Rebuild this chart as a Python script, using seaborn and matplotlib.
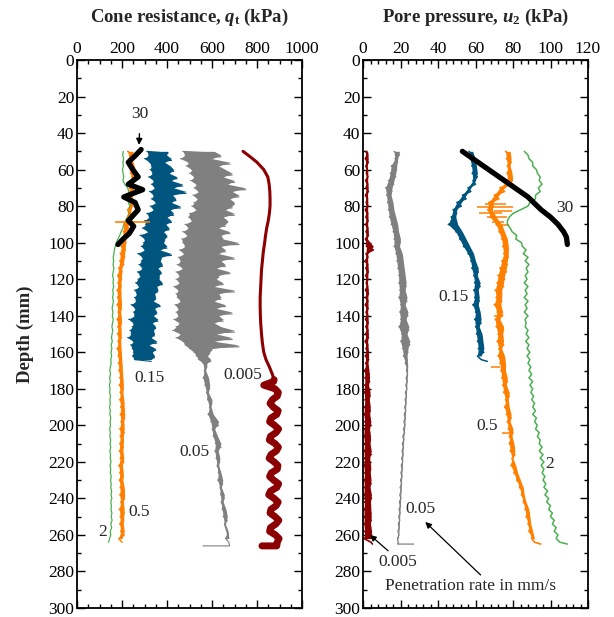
import numpy as np
import pandas as pd
import matplotlib
matplotlib.use("Agg")
import matplotlib.pyplot as plt
import seaborn as sns

# ---------------- data ----------------
# depth grids (mm)
depth_1mm = np.arange(50, 166, 1)      # 50..165
depth_2mm = np.arange(50, 265, 2)      # 50..264
depth_gray_thin = np.arange(166, 265, 2)  # 166..264
depth_red_band = np.arange(176, 265, 2)   # 176..264

# ---- Cone resistance qt (kPa) ----
qt_015 = [310, 405, 318, 398, 300, 420, 322, 390, 330, 415,
          325, 430, 335, 410, 318, 445, 340, 420, 330, 470,
          345, 430, 322, 485, 340, 425, 330, 440, 350, 420,
          325, 460, 340, 415, 310, 430, 320, 400, 300, 420,
          305, 395, 290, 410, 315, 385, 280, 400, 300, 390,
          295, 385, 285, 400, 300, 370, 270, 420, 290, 375,
          285, 370, 275, 380, 290, 360, 268, 375, 280, 365,
          270, 365, 260, 380, 275, 355, 255, 360, 265, 345,
          255, 350, 262, 340, 240, 370, 258, 345, 250, 355,
          255, 340, 230, 360, 250, 335, 245, 350, 235, 340,
          240, 345, 225, 330, 250, 355, 238, 320, 245, 350,
          250, 335, 245, 345, 255, 330]

qt_005_wide = [470, 610, 480, 640, 460, 600, 495, 680, 485, 630,
               510, 660, 500, 690, 520, 650, 505, 700, 530, 670,
               520, 750, 540, 690, 515, 720, 535, 680, 520, 700,
               510, 690, 530, 660, 500, 700, 495, 650, 510, 670,
               480, 660, 495, 630, 470, 680, 490, 640, 465, 650,
               470, 720, 480, 640, 455, 660, 475, 630, 450, 700,
               460, 640, 445, 660, 470, 620, 440, 680, 455, 630,
               440, 620, 455, 650, 430, 610, 450, 700, 440, 630,
               445, 640, 460, 610, 435, 660, 450, 620, 440, 690,
               450, 630, 430, 650, 455, 610, 440, 640, 425, 700,
               460, 620, 440, 690, 470, 610, 480, 720, 500, 600,
               520, 590, 530, 580, 540, 595]
qt_005_thin = [560, 578, 565, 572, 560, 585, 568, 590, 575, 584,
               580, 600, 588, 596, 582, 606, 595, 630, 600, 612,
               605, 625, 615, 640, 612, 628, 618, 635, 622, 630,
               628, 640, 625, 648, 635, 642, 638, 655, 640, 650,
               645, 662, 650, 668, 655, 660, 665, 672, 660, 675]
qt_005_tail_depth = [266, 266]
qt_005_tail = [678, 560]

qt_05 = [225, 250, 232, 244, 228, 255, 238, 262, 240, 250,
         232, 252, 228, 246, 235, 248, 225, 240, 224, 238,
         208, 228, 205, 225, 200, 218, 196, 215, 192, 212,
         190, 208, 185, 200, 180, 198, 182, 196, 178, 195,
         180, 196, 178, 198, 182, 194, 178, 198, 181, 195,
         180, 197, 182, 194, 178, 196, 183, 198, 184, 200,
         186, 202, 190, 204, 188, 206, 192, 204, 190, 208,
         194, 210, 192, 212, 195, 208, 190, 210, 192, 206,
         190, 206, 188, 204, 192, 208, 186, 202, 190, 206,
         188, 204, 192, 210, 190, 212, 194, 206, 188, 210,
         192, 208, 190, 206, 194, 210, 186, 200]
qt_05_spike_depth = [88.5]
qt_05_spike_lo = [169]
qt_05_spike_hi = [324]

qt_2 = [206, 203, 207, 204, 206, 202, 205, 208, 204, 212,
        225, 230, 226, 233, 228, 235, 226, 230, 224, 215,
        208, 204, 196, 190, 182, 175, 170, 166, 164, 161,
        163, 160, 164, 161, 158, 162, 160, 163, 159, 161,
        158, 162, 159, 156, 160, 157, 161, 158, 155, 159,
        156, 153, 157, 152, 155, 151, 154, 150, 152, 148,
        146, 149, 145, 148, 144, 147, 145, 149, 146, 148,
        145, 148, 146, 150, 147, 149, 145, 148, 146, 150,
        147, 150, 146, 149, 148, 151, 147, 150, 148, 152,
        149, 152, 150, 154, 151, 155, 150, 153, 151, 155,
        152, 156, 150, 154, 148, 150, 145, 140]

qt_30_depth = [49, 52, 56, 60, 64, 68, 71, 75, 78, 82, 85, 88, 91, 95, 98, 101]
qt_30 = [285, 262, 228, 248, 272, 228, 292, 208, 258, 272, 250, 228, 252, 232, 205, 182]

qt_0005_smooth_depth = [50, 53, 56, 60, 64, 68, 72, 76, 80, 84, 88, 92, 96, 100, 105,
                        110, 115, 120, 125, 130, 135, 140, 145, 150, 155, 160, 164,
                        168, 172, 175]
qt_0005_smooth = [738, 770, 800, 830, 848, 854, 857, 858, 858, 855, 850, 843, 838, 834, 828,
                  824, 820, 818, 816, 814, 814, 815, 817, 820, 824, 830, 840,
                  855, 868, 876]
qt_0005_band = [874, 830, 880, 895, 890, 868, 858, 872, 894, 888,
                862, 856, 878, 896, 884, 860, 855, 880, 895, 886,
                862, 854, 876, 893, 890, 864, 856, 874, 896, 888,
                860, 852, 876, 894, 885, 862, 858, 880, 897, 884,
                860, 856, 882, 898, 890]
qt_0005_tail_depth = [266, 266]
qt_0005_tail = [888, 822]

# ---- Pore pressure u2 (kPa) ----
u_015 = [56.5, 58.5, 57, 59.8, 58, 60.5, 58.2, 61, 58.6, 60,
         56, 57.5, 53, 55, 50, 52.5, 48, 50, 47, 49.5,
         45.5, 50.5, 49.5, 53, 51.5, 55, 53.5, 57, 56, 59,
         57.5, 60, 58, 61.5, 59, 61, 59.5, 62.5, 59, 61.5,
         59.5, 62, 58.5, 61.5, 60, 62.5, 59.5, 63, 60, 62,
         60.5, 63.5, 61, 64, 61.5, 64.5, 61, 63]
u_015_depth = np.arange(50, 165, 2)
u_015_tail_depth = [165]
u_015_tail = [66.3]

u_05 = [76, 78.5, 76.5, 79, 77, 78.5, 76.8, 79.5, 77, 79.8,
        73, 75.5, 70, 72.5, 67, 69.5, 66.5, 69, 68, 71,
        71, 74, 72.5, 75.5, 74, 77, 74.5, 77.5, 75, 77.5,
        74, 77, 73, 76.5, 72, 75.5, 71.5, 75, 70.5, 74,
        71, 74, 70, 73.5, 71.5, 74.5, 70.5, 73, 71, 75,
        72, 74.5, 71.5, 75, 72.5, 74, 72, 75.5, 73, 76,
        73.5, 76, 74, 77, 74.5, 76.5, 75, 78, 76, 77.5,
        75.5, 78, 76.5, 79, 77, 78.5, 77.5, 80, 78, 79.5,
        78, 80.5, 78.5, 81, 79.5, 80, 79, 81.5, 80.5, 82.5,
        82, 84, 83.5, 85.5, 84.5, 86, 85.5, 87, 86.5, 88.5,
        87, 89, 88, 89.5, 88.5, 90.5, 90, 91.5]
u_05_tail_depth = [265]
u_05_tail = [94.8]
u_05_spike_depth = [79, 80.5, 82.5, 84, 86, 88.5, 90.5, 140, 168, 204]
u_05_spike_lo = [65, 61, 70, 62, 66, 69, 71, 70, 68, 74]
u_05_spike_hi = [76, 80, 79.5, 74, 77, 75, 78, 73, 73, 79]

u_2 = [86, 88, 88.5, 90.5, 90.5, 92.5, 93, 94.5, 94, 95.5,
       93.5, 94.5, 92, 92, 89, 88, 84, 80, 78, 77,
       77, 78.5, 79.5, 82, 81.5, 84.5, 85, 87, 85.5, 88,
       86.5, 88.5, 87, 88, 86.5, 87.5, 86, 88, 86.5, 87.5,
       86, 88, 86.5, 87.5, 86, 88, 86.5, 87, 86.5, 88,
       87, 88.5, 86.8, 88.5, 87.5, 89, 87.5, 89, 88, 89.5,
       88.5, 90, 88.5, 90.5, 89, 90.5, 89.5, 91, 90, 91.5,
       90.5, 92, 90.5, 92.5, 91.5, 93, 92, 94, 93, 94.5,
       94, 95.5, 94, 96, 94.5, 96.5, 95, 96.5, 95.5, 97,
       96, 97.5, 96.5, 98.5, 97, 99, 98, 100, 99, 101,
       100, 102, 101, 103, 102, 104, 103, 105]
u_2_tail_depth = [265]
u_2_tail = [109]

u_005 = [16.5, 19.5, 17, 18.5, 15, 18, 14.5, 17.5, 13.5, 16.5,
         12, 15.5, 12.5, 15, 13, 16, 13.5, 16.5, 14, 17.5,
         15, 18.5, 16, 19, 16.5, 20, 16.5, 19.5, 17.5, 21,
         18, 21.5, 18.5, 22, 19, 22.5, 19, 23, 19.5, 22.5,
         19, 23.5, 20, 22.5, 19.5, 24, 20, 23, 19, 24.5,
         20.5, 23.5, 20, 25, 21, 24, 21.5, 23.5, 22.5, 23.8,
         23.2, 23.8, 23, 23.6, 22.8, 23.4, 22.6, 23.2, 22.4, 23,
         22.2, 22.8, 22, 22.6, 21.8, 22.4, 21.6, 22.2, 21.2, 21.8,
         21, 21.6, 20.8, 21.4, 20.6, 21.2, 20.4, 21, 20.2, 20.8,
         20, 20.6, 19.8, 20.4, 19.6, 20.2, 19.4, 20, 19.2, 19.8,
         19, 19.6, 18.8, 19.4, 18.6, 19.2, 18.4, 18.8]
u_005_tail_depth = [265, 265]
u_005_tail = [18.4, 27]

u_0005 = [1.5, 2.5, 1.2, 2.8, 1.5, 2.3, 1.8, 2.6, 1.4, 2.5,
          1.6, 2.8, 1.3, 2.4, 1.7, 2.6, 1.2, 2.5, 1.5, 2.7,
          1.4, 2.5, 1.6, 2.9, 1.3, 2.4, 1.8, 5.5, 1.6, 2.6,
          1.2, 2.5, 1.5, 2.8, 1.4, 2.6, 1.7, 2.4, 1.3, 2.9,
          1.5, 2.6, 1.2, 2.7, 1.6, 2.5, 1.3, 2.8, 1.5, 2.6,
          1.4, 2.9, 1.1, 2.5, 1.6, 2.8, 1.2, 3.0, 1.4, 2.7,
          0.8, 3.2, 1.0, 3.5, 0.9, 3.0, 0.6, 3.8, 1.0, 3.4,
          0.7, 3.9, 0.5, 3.6, 0.9, 4.2, 0.6, 3.5, 0.4, 4.0,
          0.8, 3.8, 0.5, 4.4, 0.7, 3.6, 0.4, 4.1, 0.8, 3.9,
          0.5, 4.3, 0.7, 3.8, 0.4, 4.5, 0.8, 4.0, 0.5, 4.2,
          0.6, 4.4, 0.5, 4.0, 0.8, 4.6, 0.6, 4.3]
u_0005_tail_depth = [265]
u_0005_tail = [5]

u_30_depth = [50, 55, 60, 65, 70, 75, 78, 82, 86, 90, 94, 97, 101]
u_30 = [53, 60, 67, 74, 81, 88, 91, 95, 100, 104, 107, 108.5, 109]

# colours
C_RED = "#8B0000"
C_GRAY = "#808080"
C_BLUE = "#00557F"
C_ORANGE = "#FF8000"
C_GREEN = "#4CAF50"
C_BLACK = "#000000"

# ---------------- style ----------------
sns.set_theme(style="ticks")
plt.rcParams["font.family"] = ["Liberation Serif", "DejaVu Serif"]
plt.rcParams["mathtext.fontset"] = "custom"
plt.rcParams["mathtext.rm"] = "Liberation Serif:bold"
plt.rcParams["mathtext.it"] = "Liberation Serif:italic:bold"
plt.rcParams["mathtext.bf"] = "Liberation Serif:bold"

W, H = 614, 617
fig = plt.figure(figsize=(W / 100, H / 100), dpi=100)


def px_axes(x0, x1, y0, y1):
    return fig.add_axes([x0 / W, 1 - y1 / H, (x1 - x0) / W, (y1 - y0) / H])


axL = px_axes(77, 302, 60, 608)
axR = px_axes(363, 588, 60, 608)


def draw(ax, x, y, color, lw):
    sns.lineplot(x=np.asarray(x, dtype=float), y=np.asarray(y, dtype=float),
                 ax=ax, color=color, lw=lw, sort=False, estimator=None,
                 legend=False)


def band(ax, x, y, color):
    # noisy record: consecutive readings alternate low/high -> fill between them
    x = np.asarray(x, dtype=float)
    y = np.asarray(y, dtype=float)
    ax.fill_betweenx(y[0::2], x[0::2], x[1::2], color=color, lw=0)


# left panel
draw(axL, qt_0005_smooth, qt_0005_smooth_depth, C_RED, 2.2)
draw(axL, [qt_0005_smooth[-1]] + qt_0005_band + qt_0005_tail,
     [qt_0005_smooth_depth[-1]] + list(depth_red_band) + qt_0005_tail_depth, C_RED, 5.0)
gray_d = list(depth_1mm) + list(depth_gray_thin)
band(axL, qt_005_wide + qt_005_thin, gray_d, C_GRAY)
draw(axL, qt_005_wide + qt_005_thin + qt_005_tail, gray_d + qt_005_tail_depth, C_GRAY, 0.8)
band(axL, qt_015, depth_1mm, C_BLUE)
draw(axL, qt_015, depth_1mm, C_BLUE, 0.8)
draw(axL, qt_2, depth_2mm, C_GREEN, 0.9)
band(axL, qt_05, depth_2mm, C_ORANGE)
draw(axL, qt_05, depth_2mm, C_ORANGE, 1.1)
axL.hlines(qt_05_spike_depth, qt_05_spike_lo, qt_05_spike_hi, color=C_ORANGE, lw=1.2)
draw(axL, qt_30, qt_30_depth, C_BLACK, 3.8)

# right panel
band(axR, u_0005, depth_2mm, C_RED)
draw(axR, u_0005 + u_0005_tail, list(depth_2mm) + u_0005_tail_depth, C_RED, 1.2)
band(axR, u_005, depth_2mm, C_GRAY)
draw(axR, u_005 + u_005_tail, list(depth_2mm) + u_005_tail_depth, C_GRAY, 0.9)
band(axR, u_015, u_015_depth, C_BLUE)
draw(axR, u_015 + u_015_tail, list(u_015_depth) + u_015_tail_depth, C_BLUE, 1.1)
band(axR, u_05, depth_2mm, C_ORANGE)
draw(axR, u_05 + u_05_tail, list(depth_2mm) + u_05_tail_depth, C_ORANGE, 1.2)
axR.hlines(u_05_spike_depth, u_05_spike_lo, u_05_spike_hi, color=C_ORANGE, lw=1.1)
draw(axR, u_2 + u_2_tail, list(depth_2mm) + u_2_tail_depth, C_GREEN, 1.1)
draw(axR, u_30, u_30_depth, C_BLACK, 3.8)

# axes formatting
for ax, xmax, xmaj, xmin in [(axL, 1000, 200, 50), (axR, 120, 20, 4)]:
    ax.set_xlim(0, xmax)
    ax.set_ylim(300, 0)
    ax.set_xticks(np.arange(0, xmax + 1, xmaj))
    ax.set_xticks(np.arange(0, xmax + 1, xmin), minor=True)
    ax.set_yticks(np.arange(0, 301, 20))
    ax.set_yticks(np.arange(0, 301, 10), minor=True)
    ax.tick_params(axis="both", which="both", direction="in", top=True, right=True,
                   bottom=True, left=True, labeltop=True, labelbottom=False,
                   labelleft=True, labelright=False, colors="black",
                   labelsize=12.5, width=1.0)
    ax.tick_params(which="major", length=6, pad=2)
    ax.tick_params(which="minor", length=3)
    ax.set_xlabel("")
    ax.set_ylabel("")
    for s in ax.spines.values():
        s.set_visible(True)
        s.set_linewidth(1.3)
        s.set_color("black")

# titles
fig.text(189.5 / W, 1 - 17 / H, "Cone resistance, $q_\\mathrm{t}$ (kPa)",
         ha="center", va="center", fontsize=13.5, fontweight="bold")
fig.text(475.5 / W, 1 - 17 / H, "Pore pressure, $u_\\mathrm{2}$ (kPa)",
         ha="center", va="center", fontsize=13.5, fontweight="bold")
fig.text(25 / W, 1 - 334 / H, "Depth (mm)", rotation=90, ha="center", va="center",
         fontsize=13.5, fontweight="bold")

# annotations (left)
fs = 12.5
axL.annotate("30", xy=(276, 46.5), xytext=(280, 29.6), ha="center", va="center",
             fontsize=fs, arrowprops=dict(arrowstyle="-|>", color="black", lw=1.0,
                                          shrinkA=6, shrinkB=0, mutation_scale=9))
axL.text(324, 174, "0.15", ha="center", va="center", fontsize=fs)
axL.text(738, 172.4, "0.005", ha="center", va="center", fontsize=fs)
axL.text(524, 214.6, "0.05", ha="center", va="center", fontsize=fs)
axL.text(276, 247.4, "0.5", ha="center", va="center", fontsize=fs)
axL.text(116, 258.3, "2", ha="center", va="center", fontsize=fs)

# annotations (right)
axR.text(107.7, 81, "30", ha="center", va="center", fontsize=fs)
axR.text(48.2, 129.7, "0.15", ha="center", va="center", fontsize=fs)
axR.text(66.4, 200.3, "0.5", ha="center", va="center", fontsize=fs)
axR.text(99.6, 221, "2", ha="center", va="center", fontsize=fs)
axR.text(30.5, 246, "0.05", ha="center", va="center", fontsize=fs)
axR.text(18.7, 274.8, "0.005", ha="center", va="center", fontsize=fs)
axR.text(57.3, 288, "Penetration rate in mm/s", ha="center", va="center", fontsize=fs)
axR.annotate("", xy=(33.2, 252.9), xytext=(62.7, 281.9),
             arrowprops=dict(arrowstyle="-|>", color="black", lw=0.9,
                             shrinkA=0, shrinkB=0, mutation_scale=9))
axR.annotate("", xy=(3.7, 260), xytext=(13.4, 268.7),
             arrowprops=dict(arrowstyle="-|>", color="black", lw=0.9,
                             shrinkA=0, shrinkB=0, mutation_scale=9))

fig.savefig("out.png", dpi=100)
